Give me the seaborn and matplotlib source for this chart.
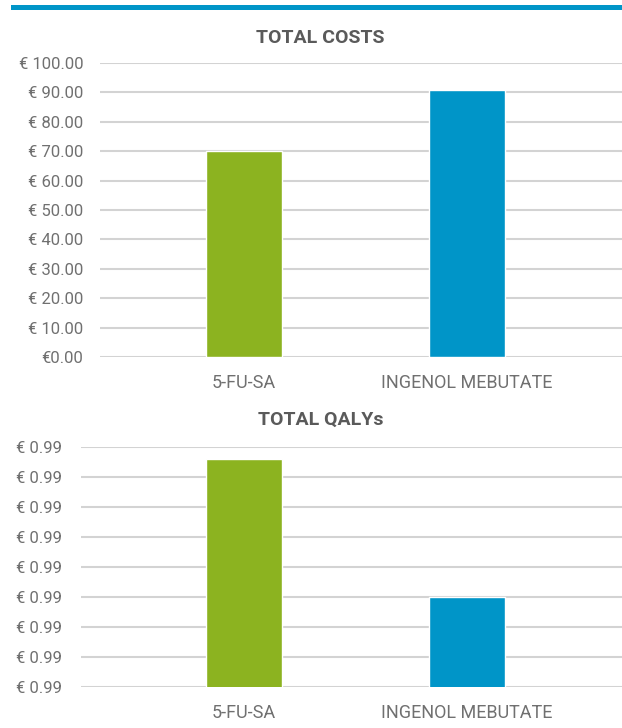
#-- cost-effectiveness: total costs and total QALYs --

import pandas as pd
import matplotlib.pyplot as plt
from matplotlib.patches import Rectangle
import seaborn as sns

sns.set_style('white')
plt.rcParams.update({'font.family': ['Roboto', 'DejaVu Sans'],
                     'axes.linewidth': 0})

#--data--
treatments    = ['5-FU-SA', 'INGENOL MEBUTATE']
total_costs   = [70.0, 90.8]
total_qalys   = [0.98980, 0.98750]
cost_ticks    = [0, 10, 20, 30, 40, 50, 60, 70, 80, 90, 100]
cost_labels   = ['€0.00', '€ 10.00', '€ 20.00', '€ 30.00', '€ 40.00', '€ 50.00',
                 '€ 60.00', '€ 70.00', '€ 80.00', '€ 90.00', '€ 100.00']
qaly_ticks    = [0.9860, 0.9865, 0.9870, 0.9875, 0.9880, 0.9885, 0.9890, 0.9895, 0.9900]
qaly_labels   = ['€ 0.99'] * len(qaly_ticks)
bar_colors    = {'5-FU-SA': '#8cb320', 'INGENOL MEBUTATE': '#0095c8'}

df = pd.DataFrame({'treatment': treatments, 'cost': total_costs, 'qaly': total_qalys})

W, H = 622, 728
fig = plt.figure(figsize=(W / 100, H / 100), dpi=100)

# top accent line
fig.add_artist(Rectangle((11 / W, 1 - 10 / H), 1 - 11 / W, 5 / H,
                         transform=fig.transFigure, color='#0095c8', lw=0))

ax1 = fig.add_axes([100 / W, 1 - 357 / H, 522 / W, 294 / H])
ax2 = fig.add_axes([81 / W, 1 - 687 / H, 541 / W, 240 / H])

grid_c = '#d3d3d3'
tick_c = '#707070'

def style(ax, ticks, labels, lo, hi, left_px, ypad):
    ax.set_ylim(lo, hi)
    ax.set_yticks(ticks)
    ax.set_yticklabels(labels)
    ax.yaxis.grid(True, color=grid_c, lw=1.5)
    ax.set_axisbelow(True)
    # category centres at px 244 and 467 -> 223 px per category
    ax.set_xlim(-(244 - left_px) / 223, 1 + (622 - 467) / 223)
    ax.tick_params(axis='y', length=0, pad=ypad, labelsize=12, labelcolor=tick_c)
    ax.tick_params(axis='x', length=0, pad=12, labelsize=13, labelcolor=tick_c)
    ax.set_xlabel('')
    ax.set_ylabel('')
    if ax.get_legend() is not None:
        ax.get_legend().remove()

sns.barplot(data=df, x='treatment', y='cost', hue='treatment', palette=bar_colors,
            width=0.34, saturation=1, ax=ax1)
style(ax1, cost_ticks, cost_labels, 0, 100, 100, 12)

sns.barplot(data=df, x='treatment', y='qaly', hue='treatment', palette=bar_colors,
            width=0.34, saturation=1, ax=ax2)
style(ax2, qaly_ticks, qaly_labels, 0.9860, 0.9900, 81, 14)

fig.text(320 / W, 1 - 38 / H, 'TOTAL COSTS', ha='center', va='center',
         fontsize=14, fontweight='bold', color='#5a5a5a')
fig.text(321 / W, 1 - 420 / H, 'TOTAL QALYs', ha='center', va='center',
         fontsize=14, fontweight='bold', color='#5a5a5a')

fig.savefig('out.png', dpi=100)
